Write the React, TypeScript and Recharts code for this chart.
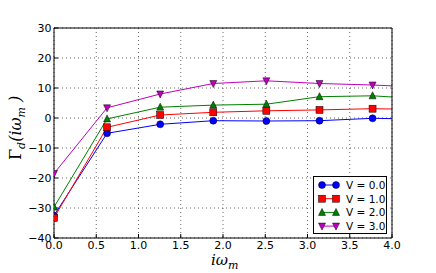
import React from "react";
import { LineChart, Line, XAxis, YAxis, CartesianGrid, Legend } from "recharts";

// Matsubara frequencies (last one is past the axis edge, gets clipped)
const omega = [0, 0.628, 1.257, 1.885, 2.513, 3.142, 3.77, 4.398];
const gammaV0 = [-32.5, -5.1, -2.1, -0.9, -1.0, -0.9, -0.1, -0.4];
const gammaV1 = [-33.3, -3.1, 1.0, 1.9, 2.4, 2.7, 3.1, 2.8];
const gammaV2 = [-29.7, -0.3, 3.6, 4.3, 4.6, 7.1, 7.4, 6.3];
const gammaV3 = [-18.5, 3.4, 8.0, 11.5, 12.4, 11.5, 11.0, 10.2];

const xTicks = [0, 0.5, 1, 1.5, 2, 2.5, 3, 3.5, 4];
const yTicks = [-40, -30, -20, -10, 0, 10, 20, 30];

const SERIES = [
  { key: "v0", label: "V = 0.0", color: "#0000ff", marker: "circle" },
  { key: "v1", label: "V = 1.0", color: "#ff0000", marker: "square" },
  { key: "v2", label: "V = 2.0", color: "#008000", marker: "up" },
  { key: "v3", label: "V = 3.0", color: "#bf00bf", marker: "down" },
];

const data = omega.map((x, i) => ({
  x,
  v0: gammaV0[i],
  v1: gammaV1[i],
  v2: gammaV2[i],
  v3: gammaV3[i],
}));

const FONT = "'DejaVu Sans', sans-serif";
const MATH = "'DejaVu Serif', serif";

function Marker({ cx, cy, kind, color }: { cx: number; cy: number; kind: string; color: string }) {
  const s = 3.5;
  const common = { fill: color, stroke: "#000", strokeWidth: 0.5 };
  if (kind === "circle") return <circle cx={cx} cy={cy} r={s} {...common} />;
  if (kind === "square") return <rect x={cx - s} y={cy - s} width={2 * s} height={2 * s} {...common} />;
  if (kind === "up")
    return <polygon points={`${cx},${cy - s - 0.5} ${cx - s},${cy + s - 0.5} ${cx + s},${cy + s - 0.5}`} {...common} />;
  return <polygon points={`${cx},${cy + s + 0.5} ${cx - s},${cy - s + 0.5} ${cx + s},${cy - s + 0.5}`} {...common} />;
}

const fmtY = (v: number) => (v < 0 ? `\u2212${Math.abs(v)}` : `${v}`);

function LegendBox() {
  return (
    <div
      style={{
        position: "absolute",
        left: 313,
        top: 176,
        width: 72,
        height: 56,
        border: "1px solid #000",
        background: "#fff",
        boxSizing: "content-box",
      }}
    >
      <svg width={72} height={56}>
        {SERIES.map((s, i) => {
          const y = 8 + i * 13.7;
          return (
            <g key={s.key}>
              <line x1={8} x2={22} y1={y} y2={y} stroke={s.color} strokeWidth={1} />
              <Marker cx={8} cy={y} kind={s.marker} color={s.color} />
              <Marker cx={22} cy={y} kind={s.marker} color={s.color} />
              <text x={32} y={y + 4} fontSize={10.5} fontFamily={FONT} fill="#000">
                {s.label}
              </text>
            </g>
          );
        })}
      </svg>
    </div>
  );
}

export default function App() {
  return (
    <div style={{ position: "absolute", left: 0, top: 0, width: 436, height: 273, background: "#fff" }}>
      <LineChart width={436} height={273} data={data} margin={{ top: 27, right: 43, left: 0, bottom: 0 }}>
        <CartesianGrid
          stroke="#000"
          strokeWidth={0.6}
          strokeDasharray="1 3"
          horizontalValues={yTicks}
          verticalValues={xTicks}
        />
        <XAxis
          dataKey="x"
          type="number"
          domain={[0, 4]}
          ticks={xTicks}
          allowDataOverflow
          height={35}
          tickSize={-4}
          tickMargin={7}
          tickFormatter={(v: number) => v.toFixed(1)}
          tick={{ fontSize: 11, fontFamily: FONT, fill: "#000" }}
          axisLine={{ stroke: "#000", strokeWidth: 1 }}
          tickLine={{ stroke: "#000" }}
          label={{
            content: () => (
              <text x={211} y={265} fontFamily={MATH} fontStyle="italic" fontSize={15} fill="#000">
                iω
                <tspan fontSize={11} dy={4}>m</tspan>
              </text>
            ),
          }}
        />
        <XAxis
          xAxisId="top"
          dataKey="x"
          type="number"
          orientation="top"
          domain={[0, 4]}
          ticks={xTicks}
          allowDataOverflow
          height={1}
          tickSize={-4}
          tick={false}
          axisLine={{ stroke: "#000", strokeWidth: 1 }}
          tickLine={{ stroke: "#000" }}
        />
        <YAxis
          type="number"
          domain={[-40, 30]}
          ticks={yTicks}
          allowDataOverflow
          width={54}
          tickSize={-4}
          tickMargin={6.5}
          tickFormatter={fmtY}
          tick={{ fontSize: 11, fontFamily: FONT, fill: "#000" }}
          axisLine={{ stroke: "#000", strokeWidth: 1 }}
          tickLine={{ stroke: "#000" }}
          label={{
            content: () => (
              <text
                transform="translate(21,160) rotate(-90)"
                fontFamily={MATH}
                fontSize={16}
                fill="#000"
              >
                Γ
                <tspan fontStyle="italic" fontSize={11} dy={4}>d</tspan>
                <tspan fontStyle="italic" dy={-4}>(iω</tspan>
                <tspan fontStyle="italic" fontSize={11} dy={4}>m</tspan>
                <tspan fontStyle="italic" dy={-4}> )</tspan>
              </text>
            ),
          }}
        />
        <YAxis
          yAxisId="right"
          orientation="right"
          type="number"
          domain={[-40, 30]}
          ticks={yTicks}
          allowDataOverflow
          width={1}
          tickSize={-4}
          tick={false}
          axisLine={{ stroke: "#000", strokeWidth: 1 }}
          tickLine={{ stroke: "#000" }}
        />
        {SERIES.map((s) => (
          <Line
            key={s.key}
            dataKey={s.key}
            type="linear"
            stroke={s.color}
            strokeWidth={1}
            isAnimationActive={false}
            dot={(p: any) => <Marker key={`${s.key}-${p.index}`} cx={p.cx} cy={p.cy} kind={s.marker} color={s.color} />}
            activeDot={false}
          />
        ))}
        <Legend content={() => null} />
      </LineChart>
      <LegendBox />
    </div>
  );
}
